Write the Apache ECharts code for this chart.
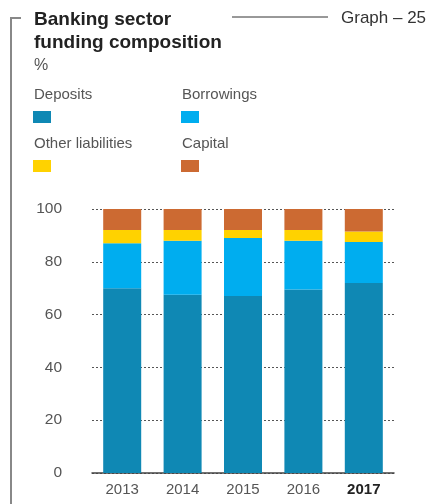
<!DOCTYPE html>
<html>
<head>
<meta charset="utf-8">
<script src="https://cdn.jsdelivr.net/npm/echarts@6/dist/echarts.min.js"></script>
<style>
  html, body { margin: 0; padding: 0; background: #fff; }
  #chart { width: 446px; height: 504px; }
</style>
</head>
<body>
<div id="chart"></div>
<script>
// Banking sector funding composition, % of total
const years = ['2013', '2014', '2015', '2016', '2017'];
const deposits = [70, 67.5, 67, 69.5, 72];
const borrowings = [17, 20.5, 22, 18.5, 15.5];
const otherLiabilities = [5, 4, 3, 4, 4];
const capital = [8, 8, 8, 8, 8.5];
const yTicks = [0, 20, 40, 60, 80, 100];

const seriesNames = ['Deposits', 'Borrowings', 'Other liabilities', 'Capital'];
const seriesColors = ['#0f88b4', '#00adef', '#ffd200', '#cc6a32'];
const seriesData = [deposits, borrowings, otherLiabilities, capital];

const FONT = '"Liberation Sans", "Helvetica Neue", Arial, sans-serif';

const chart = echarts.init(document.getElementById('chart'), null, { renderer: 'canvas' });

// Legend: label above a small colour swatch, in a 2x2 layout
const legendPos = [[33, 94], [181, 94], [33, 143], [181, 143]];
const legendGraphics = [];
seriesNames.forEach((name, i) => {
  const [x, y] = legendPos[i];
  legendGraphics.push({
    type: 'text', left: x + 1, top: y - 7,
    style: { text: name, font: '15px ' + FONT, fill: '#555' }
  });
  legendGraphics.push({
    type: 'rect', left: x, top: y + 17,
    shape: { width: 18, height: 12 },
    style: { fill: seriesColors[i] }
  });
});

const option = {
  animation: false,
  grid: { left: 92, right: 52, top: 209, bottom: 31, containLabel: false },
  xAxis: {
    type: 'category',
    data: years,
    axisLine: { lineStyle: { color: '#444', width: 1.5 } },
    axisTick: { show: false },
    axisLabel: {
      interval: 0,
      margin: 9,
      fontFamily: FONT,
      fontSize: 15,
      color: '#555',
      formatter: (v, idx) => idx === years.length - 1 ? '{b|' + v + '}' : v,
      rich: { b: { fontWeight: 'bold', color: '#222', fontSize: 15, fontFamily: FONT } }
    }
  },
  yAxis: {
    type: 'value',
    min: yTicks[0],
    max: yTicks[yTicks.length - 1],
    interval: 20,
    axisLine: { show: false },
    axisTick: { show: false },
    axisLabel: {
      margin: 30,
      fontFamily: FONT,
      fontSize: 15.5,
      color: '#555'
    },
    splitLine: { lineStyle: { type: [2, 2], color: '#555', width: 1 } }
  },
  series: seriesNames.map((name, i) => ({
    name: name,
    type: 'bar',
    stack: 'total',
    barWidth: 38,
    data: seriesData[i],
    itemStyle: { color: seriesColors[i] }
  })),
  graphic: [
    // bracket on the left edge
    { type: 'polyline', shape: { points: [[21, 18], [11, 18], [11, 504]] },
      style: { stroke: '#888', lineWidth: 2, fill: null } },
    { type: 'text', left: 34, top: 10,
      style: { text: 'Banking sector', font: 'bold 19px ' + FONT, fill: '#222' } },
    { type: 'text', left: 34, top: 33,
      style: { text: 'funding composition', font: 'bold 19px ' + FONT, fill: '#222' } },
    { type: 'text', left: 34, top: 58,
      style: { text: '%', font: '16px ' + FONT, fill: '#555' } },
    { type: 'line', shape: { x1: 232, y1: 17, x2: 328, y2: 17 },
      style: { stroke: '#333', lineWidth: 1 } },
    { type: 'text', left: 341, top: 10,
      style: { text: 'Graph – 25', font: '17px ' + FONT, fill: '#333' } }
  ].concat(legendGraphics)
};

chart.setOption(option);
</script>
</body>
</html>
